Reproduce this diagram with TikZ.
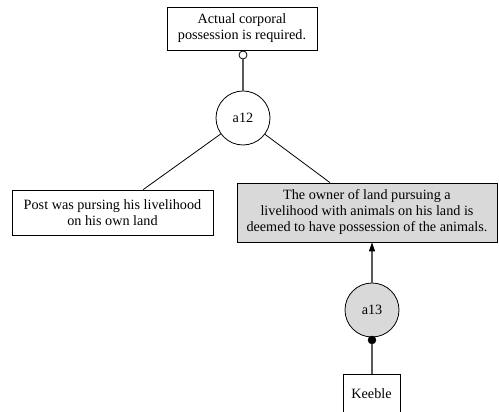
\documentclass[tikz,border=0pt]{standalone}
\usepackage{fontspec}
\setmainfont{Liberation Serif}
\usetikzlibrary{calc,arrows.meta}
\begin{document}
\begin{tikzpicture}[x=1pt,y=1pt,
  txt/.style={font=\fontsize{14.2}{16}\selectfont, align=center},
  stmt/.style={draw, line width=0.8pt, rectangle, inner sep=0pt, txt},
  argc/.style={draw, line width=0.8pt, circle, minimum size=54pt, inner sep=0pt, txt},
  link/.style={line width=0.8pt},
  glink/.style={line width=1.2pt, draw=black!65}
]
\useasboundingbox (0,0) rectangle (499,412);
\node[stmt, minimum width=150pt, minimum height=43pt] (top) at (242,383.5) {Actual corporal\\possession is required.};
\node[argc] (a12) at (243,294) {a12};
\node[draw, circle, fill=white, line width=0.8pt, minimum size=8pt, inner sep=0pt] (oc) at (243,357) {};
\node[stmt, minimum width=201pt, minimum height=45pt] (left) at (112.5,199.5) {Post was pursing his livelihood\\on his own land};
\node[stmt, fill=black!15, minimum width=260pt, minimum height=59pt] (pro) at (367,199.5) {The owner of land pursuing a\\livelihood with animals on his land is\\deemed to have possession of the animals.};
\node[argc, fill=black!15] (a13) at (372,102) {a13};
\node[draw, circle, fill=black, minimum size=8pt, inner sep=0pt] (dot) at (372,72) {};
\node[stmt, minimum width=57pt, minimum height=40pt] (keeble) at (371.5,18) {Keeble};
\coordinate (lt) at ($(left.north west)!0.652!(left.north east)$);
\coordinate (pt) at ($(pro.north west)!0.358!(pro.north east)$);
\draw[glink] (a12) -- (oc);
\draw[link] (a12) -- (lt);
\draw[link] (a12) -- (pt);
\draw[glink, -{Triangle[length=9pt,width=6pt,color=black]}] (a13) -- (pro.south -| a13);
\draw[glink] (keeble.north -| dot) -- (dot);
\end{tikzpicture}
\end{document}
